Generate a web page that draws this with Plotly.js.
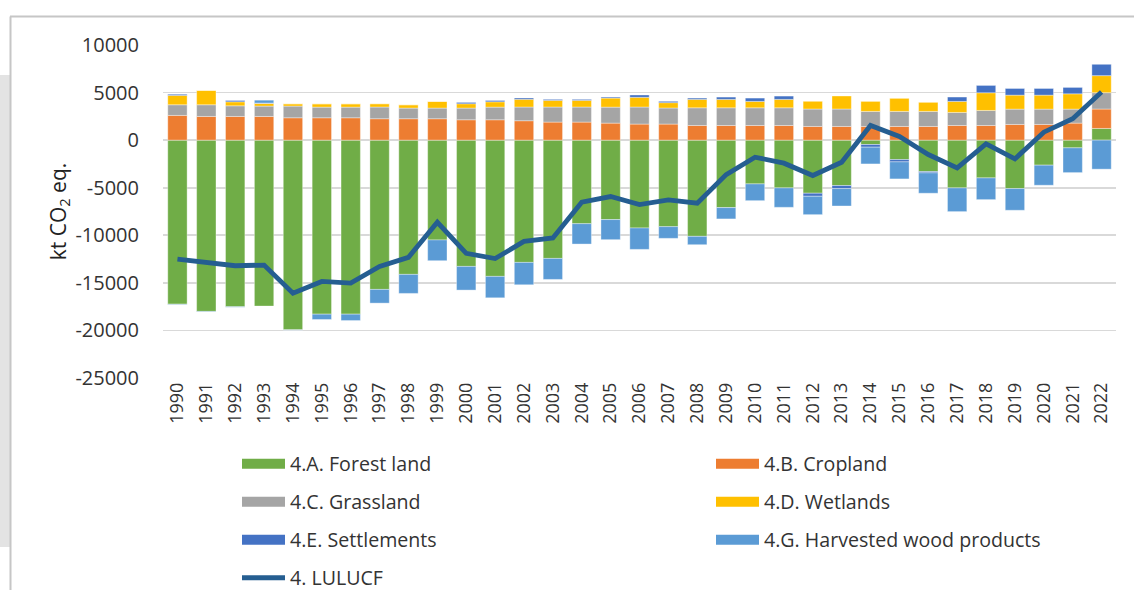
<!DOCTYPE html>
<html>
<head>
<meta charset="utf-8">
<script src="https://cdn.plot.ly/plotly-3.0.1.min.js"></script>
<style>
html,body{margin:0;padding:0;background:#fff;}
#chart{width:1134px;height:590px;}
</style>
</head>
<body>
<div id="chart"></div>
<script>
// ---- data (kt CO2 eq.) ----
const years = ['1990','1991','1992','1993','1994','1995','1996','1997','1998','1999',
  '2000','2001','2002','2003','2004','2005','2006','2007','2008','2009',
  '2010','2011','2012','2013','2014','2015','2016','2017','2018','2019',
  '2020','2021','2022'];

const forestLand = [-17240,-18000,-17510,-17440,-19940,-18290,-18290,-15690,-14110,-10490,
  -13270,-14320,-12850,-12430,-8780,-8350,-9230,-9090,-10110,-7090,
  -4600,-5020,-5580,-4770,-460,-2040,-3300,-5020,-3970,-5090,
  -2630,-810,1230];

const cropland = [2600,2490,2490,2490,2350,2350,2350,2250,2250,2250,
  2140,2140,2040,1900,1900,1790,1690,1690,1540,1540,
  1540,1540,1440,1440,1440,1440,1440,1540,1540,1650,
  1650,1790,2040];

const grassland = [1120,1230,1120,1090,1230,1120,1120,1230,1120,1120,
  1230,1330,1440,1580,1580,1680,1790,1690,1860,1860,
  1860,1860,1830,1830,1580,1580,1580,1370,1580,1610,
  1610,1470,1720];

const wetlands = [980,1510,420,280,245,350,350,350,350,700,
  455,560,810,700,700,950,1020,560,880,880,
  670,880,810,1370,1050,1370,950,1160,1860,1470,
  1470,1610,1790];

const settlements = [120,0,140,40,0,0,0,0,0,0,
  140,140,140,105,105,105,245,140,140,245,
  350,350,-320,-320,-280,-245,-140,460,770,700,
  700,670,1190];

const harvestedWood = [-50,-50,-50,300,-30,-560,-670,-1440,-2000,-2180,
  -2490,-2250,-2350,-2210,-2140,-2110,-2250,-1230,-880,-1190,
  -1760,-2040,-1930,-1830,-1760,-1790,-2140,-2490,-2280,-2280,
  -2110,-2600,-3050];

const lulucf = [-12500,-12850,-13200,-13130,-16080,-14850,-15020,-13270,-12320,-8630,
  -11900,-12450,-10640,-10280,-6530,-5930,-6770,-6280,-6630,-3620,
  -1790,-2420,-3720,-2320,1540,390,-1510,-2910,-390,-1970,
  840,2250,5050];

const yTickVals = [10000,5000,0,-5000,-10000,-15000,-20000,-25000];
const yTickText = ['10000','5000','0','-5000','-10000','-15000','-20000','-25000'];

const seriesNames = ['4.A. Forest land','4.B. Cropland','4.C. Grassland','4.D. Wetlands',
  '4.E. Settlements','4.G. Harvested wood products','4. LULUCF'];

// ---- styling ----
const colors = ['#70AD47','#ED7D31','#A5A5A5','#FFC000','#4472C4','#5B9BD5','#255E91'];
const legendIds = ['legend','legend2','legend3','legend4','legend5','legend6','legend7'];
// legend item origins in pixels [x, y-centre]
const legendPos = [[237,464],[711,464],[237,502],[711,502],[237,540],[711,540],[237,578]];
const barSeries = [forestLand, cropland, grassland, wetlands, settlements, harvestedWood];
const FONT = 'Open Sans, Liberation Sans, sans-serif';
const TXT = '#333333';

const traces = [];
barSeries.forEach((vals, i) => {
  traces.push({
    type: 'bar', x: years, y: vals, name: seriesNames[i],
    marker: {color: colors[i], line: {color: 'rgba(255,255,255,0.6)', width: 0.6}},
    showlegend: false, legendgroup: seriesNames[i], hoverinfo: 'x+y+name'
  });
});
traces.push({
  type: 'scatter', mode: 'lines', x: years, y: lulucf, name: seriesNames[6],
  line: {color: colors[6], width: 4.8}, showlegend: false, legendgroup: seriesNames[6]
});
// legend entries
seriesNames.forEach((nm, i) => {
  traces.push({
    type: 'scatter', mode: 'lines', x: [null], y: [null], name: nm,
    line: {color: colors[i], width: i === 6 ? 5 : 10},
    legend: legendIds[i], legendgroup: nm, showlegend: true, hoverinfo: 'skip'
  });
});

// pixel helpers for layout placement
const W = 1134, H = 590, ML = 163, MR = 18, MT = 45, MB = 212;
const PW = W - ML - MR, PH = H - MT - MB;
const fx = px => (px - ML) / PW;
const fy = py => (H - MB - py) / PH;

const layout = {
  width: W, height: H,
  margin: {l: ML, r: MR, t: MT, b: MB, pad: 0, autoexpand: false},
  paper_bgcolor: '#ffffff', plot_bgcolor: '#ffffff',
  barmode: 'relative', bargap: 0.33,
  font: {family: FONT, color: TXT},
  xaxis: {
    type: 'category', tickangle: -90, showgrid: false, zeroline: false, showline: false,
    ticks: '', tickfont: {family: FONT, size: 18, color: TXT}
  },
  yaxis: {
    range: [-25000, 10000], tickvals: yTickVals, ticktext: yTickText,
    showgrid: true, gridcolor: '#d9d9d9', gridwidth: 1.6,
    zeroline: true, zerolinecolor: '#d9d9d9', zerolinewidth: 1.6, showline: false,
    ticks: 'outside', ticklen: 19, tickcolor: 'rgba(0,0,0,0)',
    tickfont: {family: FONT, size: 20, color: TXT},
    title: {text: 'kt CO<sub>2</sub> eq.', font: {family: FONT, size: 21, color: '#222'}, standoff: 3}
  },
  shapes: [
    {type: 'rect', xref: 'paper', yref: 'paper', x0: fx(-5), x1: fx(11), y0: fy(75), y1: fy(547),
     fillcolor: '#e3e3e3', line: {width: 0}, layer: 'below'},
    {type: 'line', xref: 'paper', yref: 'paper', x0: fx(10), x1: fx(1140), y0: fy(16.5), y1: fy(16.5),
     line: {color: '#c6c6c6', width: 2}},
    {type: 'line', xref: 'paper', yref: 'paper', x0: fx(10.5), x1: fx(10.5), y0: fy(16.5), y1: fy(600),
     line: {color: '#c6c6c6', width: 2}}
  ],
  showlegend: true
};
legendIds.forEach((id, i) => {
  layout[id] = {
    orientation: 'h', x: fx(legendPos[i][0]), xanchor: 'left',
    y: fy(legendPos[i][1]), yanchor: 'middle',
    itemwidth: 43, font: {family: FONT, size: 19.6, color: TXT},
    bgcolor: 'rgba(0,0,0,0)', borderwidth: 0,
    itemclick: false, itemdoubleclick: false
  };
});

Plotly.newPlot('chart', traces, layout, {displayModeBar: false, staticPlot: true});
</script>
</body>
</html>
